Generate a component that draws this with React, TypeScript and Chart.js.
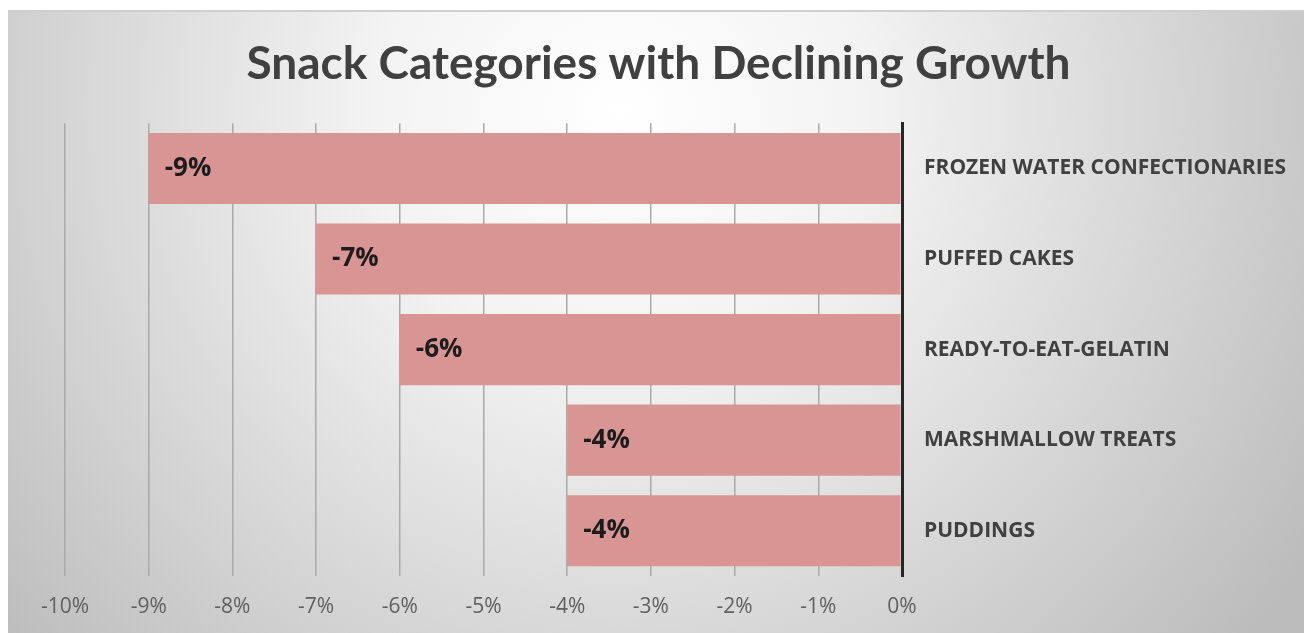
import React, { useEffect, useRef } from "react";
import { Chart, registerables } from "chart.js";

Chart.register(...registerables);

const chartTitle = "Snack Categories with Declining Growth";
const categories = [
  "FROZEN WATER CONFECTIONARIES",
  "PUFFED CAKES",
  "READY-TO-EAT-GELATIN",
  "MARSHMALLOW TREATS",
  "PUDDINGS",
];
const growthPct = [-9, -7, -6, -4, -4];
const axisMin = -10;
const axisMax = 0;

const W = 1304;
const H = 633;

const backgroundPlugin = {
  id: "bgPanel",
  beforeDraw(chart: any) {
    const ctx = chart.ctx;
    ctx.save();
    ctx.fillStyle = "#ffffff";
    ctx.fillRect(0, 0, W, H);
    const g = ctx.createRadialGradient(620, 110, 0, 620, 110, 820);
    g.addColorStop(0, "#ffffff");
    g.addColorStop(0.3, "#f3f3f3");
    g.addColorStop(1, "#bcbcbc");
    ctx.fillStyle = g;
    ctx.fillRect(8, 10, W - 8, H - 10);
    ctx.fillStyle = "#cfcfcf";
    ctx.fillRect(8, 10, W - 8, 2);
    ctx.restore();
  },
};

const valueLabelPlugin = {
  id: "valueLabels",
  afterDatasetsDraw(chart: any) {
    const ctx = chart.ctx;
    const meta = chart.getDatasetMeta(0);
    ctx.save();
    ctx.font = "bold 26px 'Open Sans', sans-serif";
    ctx.fillStyle = "#1c1c1c";
    ctx.textAlign = "left";
    ctx.textBaseline = "middle";
    meta.data.forEach((bar: any, i: number) => {
      ctx.fillText(`${growthPct[i]}%`, bar.x + 16, bar.y);
    });
    ctx.restore();
  },
};

export default function App() {
  const ref = useRef<HTMLCanvasElement | null>(null);

  useEffect(() => {
    if (!ref.current) return;
    const chart = new Chart(ref.current, {
      type: "bar",
      data: {
        labels: categories,
        datasets: [
          {
            data: growthPct,
            backgroundColor: "#d99594",
            borderWidth: 0,
            barPercentage: 0.785,
            categoryPercentage: 1,
          },
        ],
      },
      plugins: [backgroundPlugin, valueLabelPlugin],
      options: {
        indexAxis: "y",
        responsive: false,
        animation: false,
        layout: { padding: { left: 13, right: 0, top: 0, bottom: 0 } },
        plugins: {
          legend: { display: false },
          tooltip: { enabled: false },
          title: {
            display: true,
            text: chartTitle,
            color: "#404040",
            font: { family: "Lato, 'Open Sans', sans-serif", size: 46, weight: "bold", lineHeight: 1.2 },
            padding: { top: 37, bottom: 31 },
          },
        },
        scales: {
          x: {
            min: axisMin,
            max: axisMax,
            ticks: {
              stepSize: 1,
              color: "#606060",
              font: { family: "'Open Sans', sans-serif", size: 21 },
              padding: 18,
              callback: (v: any) => `${v}%`,
            },
            grid: {
              drawTicks: false,
              color: (c: any) => (c.tick && c.tick.value === 0 ? "#262626" : "#a9a9a9"),
              lineWidth: (c: any) => (c.tick && c.tick.value === 0 ? 3 : 1.5),
            },
            border: { display: false },
            afterFit: (s: any) => {
              s.height = 57;
            },
          },
          y: {
            position: "right",
            ticks: {
              color: "#404040",
              font: { family: "'Open Sans', sans-serif", size: 21, weight: "bold" },
              padding: 22,
            },
            grid: { display: false, drawTicks: false },
            border: { display: true, color: "#262626", width: 3 },
            afterFit: (s: any) => {
              s.width = 402;
            },
          },
          spacerLeft: {
            type: "linear",
            axis: "y",
            position: "left",
            ticks: { display: false },
            grid: { display: false, drawTicks: false },
            border: { display: false },
            afterFit: (s: any) => {
              s.width = 52;
            },
          },
        },
      },
    });
    return () => chart.destroy();
  }, []);

  return (
    <div style={{ position: "absolute", left: 0, top: 0, width: W, height: H }}>
      <canvas ref={ref} width={W} height={H} />
    </div>
  );
}
